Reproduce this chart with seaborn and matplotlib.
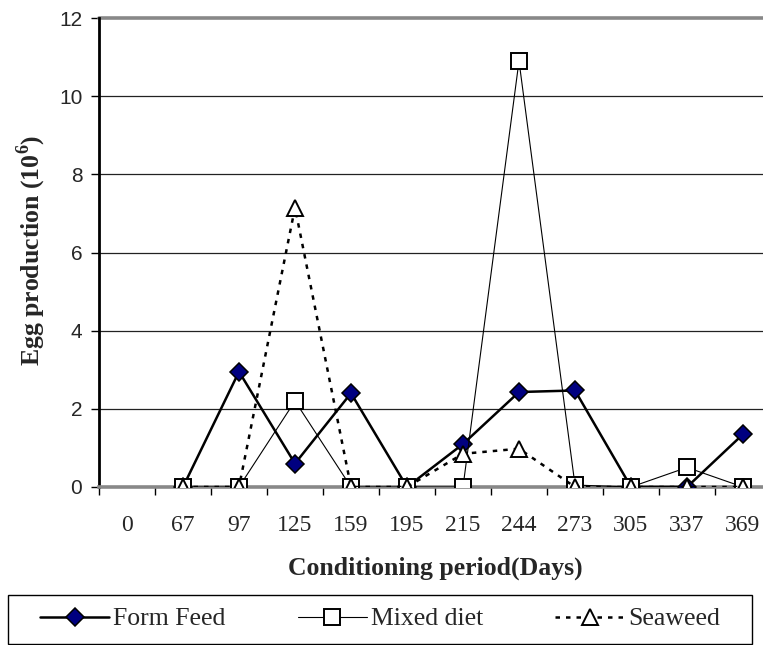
import matplotlib
matplotlib.use("Agg")
import matplotlib.pyplot as plt
from matplotlib.patches import Rectangle
import seaborn as sns
import pandas as pd

# Conditioning days (categorical axis) and egg production (x10^6)
days = ["0", "67", "97", "125", "159", "195", "215", "244", "273", "305", "337", "369"]
form_feed = [None, 0.0, 2.95, 0.6, 2.4, 0.0, 1.1, 2.43, 2.47, 0.0, 0.0, 1.35]
mixed_diet = [None, 0.0, 0.0, 2.2, 0.0, 0.0, 0.0, 10.9, 0.05, 0.0, 0.5, 0.0]
seaweed = [None, 0.0, 0.0, 7.15, 0.0, 0.0, 0.85, 0.98, 0.0, 0.0, 0.0, 0.0]

sns.set_theme(style="white")
plt.rcParams["font.family"] = ["Liberation Serif", "DejaVu Sans"]
plt.rcParams["mathtext.fontset"] = "custom"
plt.rcParams["mathtext.rm"] = "Liberation Serif:bold"
plt.rcParams["mathtext.bf"] = "Liberation Serif:bold"

df = pd.DataFrame({
    "pos": list(range(len(days))),
    "Form Feed": form_feed,
    "Mixed diet": mixed_diet,
    "Seaweed": seaweed,
})

fig = plt.figure(figsize=(7.63, 6.45), dpi=100)
ax = fig.add_axes([99 / 763, 1 - 487 / 645, 672 / 763, 469 / 645])

sns.lineplot(data=df, x="pos", y="Form Feed", ax=ax, color="black", lw=1.8,
             marker="D", markersize=9.5, markerfacecolor="#000080",
             markeredgecolor="black", markeredgewidth=1.1, label="Form Feed",
             zorder=3)
sns.lineplot(data=df, x="pos", y="Mixed diet", ax=ax, color="black", lw=0.8,
             marker="s", markersize=12, markerfacecolor="white",
             markeredgecolor="black", markeredgewidth=1.4, label="Mixed diet",
             zorder=4)
sns.lineplot(data=df, x="pos", y="Seaweed", ax=ax, color="black", lw=1.8,
             linestyle=(0, (1.8, 2.4)), marker="^", markersize=11.5,
             markerfacecolor="white", markeredgecolor="black",
             markeredgewidth=1.4, label="Seaweed", zorder=5)

ax.set_xlim(-0.5, len(days) - 0.5)
ax.set_ylim(0, 12)

# category labels centred, tick marks on category boundaries
ax.set_xticks(range(len(days)))
ax.set_xticklabels(days, fontsize=17)
ax.set_xticks([i - 0.5 for i in range(len(days) + 1)], minor=True)
ax.tick_params(axis="x", which="major", length=0, pad=20)
ax.tick_params(axis="x", which="minor", length=6, width=1, color="black",
               direction="out", bottom=True)

ax.set_yticks(range(0, 13, 2))
ax.set_yticklabels([str(v) for v in range(0, 13, 2)], fontsize=15,
                   family="Liberation Sans")
ax.tick_params(axis="y", length=6, width=1, color="black", direction="out",
               left=True, pad=6)

for v in range(2, 12, 2):
    ax.axhline(v, color="#222222", lw=0.9, zorder=1)
ax.axhline(12, color="#888888", lw=2.6, zorder=1, clip_on=False)

for s in ["top", "right"]:
    ax.spines[s].set_visible(False)
ax.spines["left"].set_color("black")
ax.spines["left"].set_linewidth(2.0)
ax.spines["bottom"].set_color("#888888")
ax.spines["bottom"].set_linewidth(2.6)

ax.set_xlabel("Conditioning period(Days)", fontsize=18.5, fontweight="bold")
ax.xaxis.set_label_coords(0.5, -0.148)
ax.set_ylabel("Egg production (10$^{6}$)", fontsize=18.5, fontweight="bold")
ax.yaxis.set_label_coords(-0.076, 0.505)

# legend: entries centred inside a framed box spanning the figure width
ax.get_legend().remove()
handles, labels = ax.get_legend_handles_labels()
fig.patches.append(Rectangle((8 / 763, 1 / 645), 744 / 763, 49 / 645,
                             transform=fig.transFigure, fill=False,
                             edgecolor="black", lw=1.0))
fig.legend(handles, labels, loc="center", ncol=3,
           bbox_to_anchor=(380 / 763, 26 / 645),
           frameon=False, fontsize=18.5, handlelength=2.7,
           handletextpad=0.15, columnspacing=2.8, borderpad=0)

fig.savefig("out.png", dpi=100)
